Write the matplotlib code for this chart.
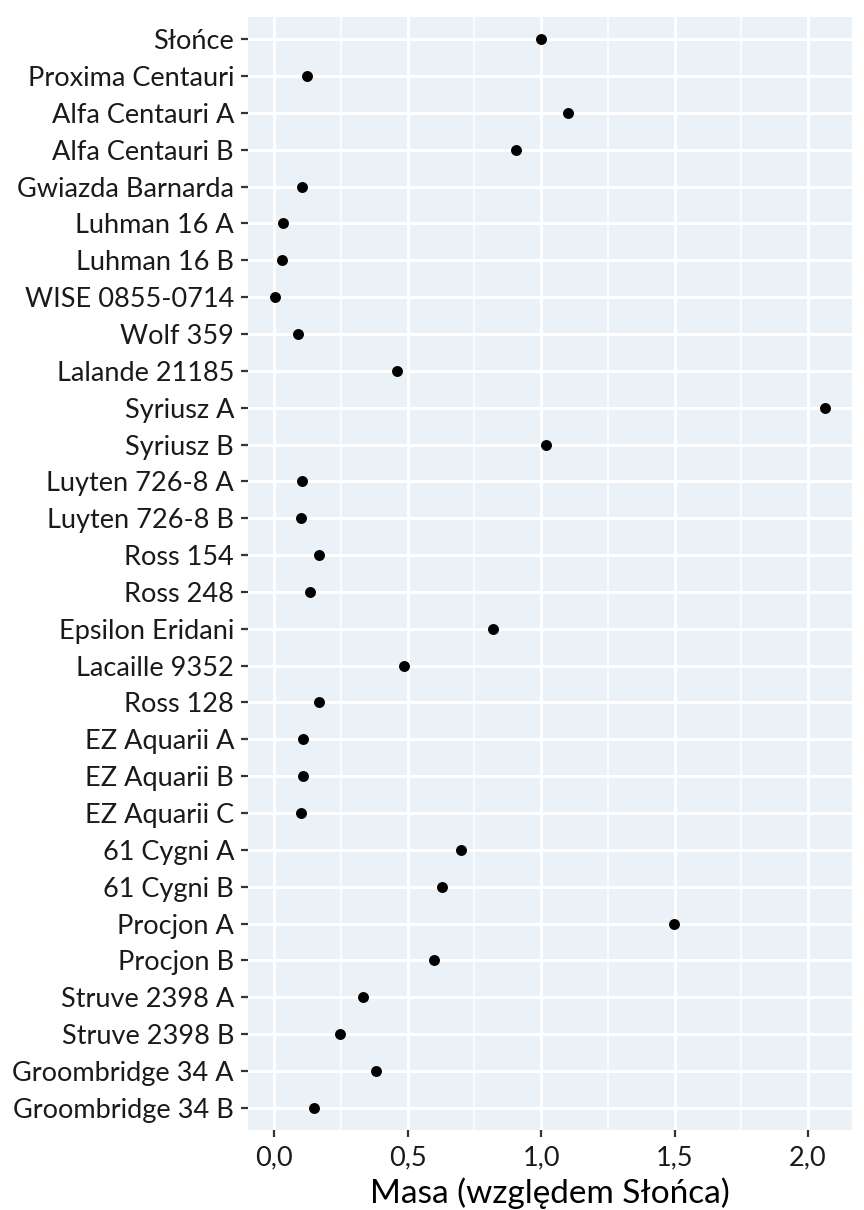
import matplotlib
matplotlib.use('Agg')
import matplotlib.pyplot as plt
from matplotlib.ticker import FixedLocator, FuncFormatter

# stars, top to bottom, with mass relative to the Sun
stars = [
    "Słońce", "Proxima Centauri", "Alfa Centauri A", "Alfa Centauri B",
    "Gwiazda Barnarda", "Luhman 16 A", "Luhman 16 B", "WISE 0855-0714",
    "Wolf 359", "Lalande 21185", "Syriusz A", "Syriusz B",
    "Luyten 726-8 A", "Luyten 726-8 B", "Ross 154", "Ross 248",
    "Epsilon Eridani", "Lacaille 9352", "Ross 128", "EZ Aquarii A",
    "EZ Aquarii B", "EZ Aquarii C", "61 Cygni A", "61 Cygni B",
    "Procjon A", "Procjon B", "Struve 2398 A", "Struve 2398 B",
    "Groombridge 34 A", "Groombridge 34 B",
]
masses = [
    1.0, 0.122, 1.1, 0.907,
    0.105, 0.032, 0.027, 0.004,
    0.089, 0.458, 2.062, 1.017,
    0.102, 0.099, 0.168, 0.135,
    0.818, 0.484, 0.166, 0.109,
    0.109, 0.099, 0.699, 0.629,
    1.497, 0.600, 0.332, 0.246,
    0.380, 0.150,
]
major_ticks = [0.0, 0.5, 1.0, 1.5, 2.0]
minor_ticks = [0.25, 0.75, 1.25, 1.75]

plt.rcParams['font.family'] = ['Lato', 'DejaVu Sans']

fig = plt.figure(figsize=(8.64, 12.10), dpi=100)
ax = fig.add_axes([248 / 864, 1 - 1130 / 1210, 604 / 864, 1113 / 1210])
ax.set_facecolor('#EAF2F7')

ypos = list(range(len(stars)))
ax.scatter(masses, ypos, s=62, color='black', zorder=3, linewidths=0)

# ggplot-like expansion
lo, hi = min(masses), max(masses)
pad = 0.05 * (hi - lo)
ax.set_xlim(lo - pad, hi + pad)
ax.set_ylim(len(stars) - 1 + 0.6, -0.6)

ax.xaxis.set_major_locator(FixedLocator(major_ticks))
ax.xaxis.set_minor_locator(FixedLocator(minor_ticks))
ax.xaxis.set_major_formatter(FuncFormatter(lambda v, p: f"{v:.1f}".replace('.', ',')))
ax.set_yticks(ypos)
ax.set_yticklabels(stars)

ax.grid(which='major', color='white', linewidth=2.2, zorder=1)
ax.grid(which='minor', axis='x', color='white', linewidth=1.1, zorder=1)
ax.set_axisbelow(True)

for s in ax.spines.values():
    s.set_visible(False)

ax.tick_params(axis='both', which='major', length=5, width=1.6, color='#333333',
               labelsize=19.5, labelcolor='#1a1a1a')
ax.tick_params(axis='y', pad=5)
ax.tick_params(axis='x', pad=6)
ax.tick_params(axis='x', which='minor', length=0)

ax.set_xlabel("Masa (względem Słońca)", fontsize=24, color='black', labelpad=5)

fig.savefig('out.png', dpi=100)
